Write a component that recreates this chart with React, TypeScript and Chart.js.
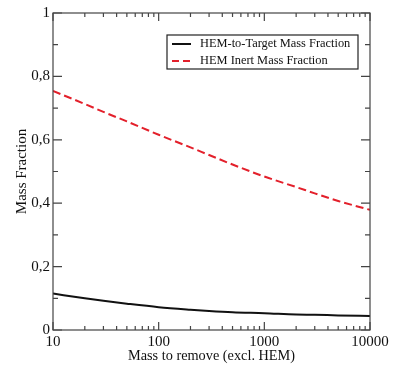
import React, { useEffect, useRef } from "react";
import { Chart, registerables } from "chart.js";

Chart.register(...registerables);

const massValues = [10, 20, 30, 50, 100, 200, 300, 500, 1000, 2000, 3000, 5000, 10000];
const hemToTarget = [0.115, 0.1, 0.092, 0.083, 0.072, 0.064, 0.06, 0.056, 0.053, 0.049, 0.048, 0.046, 0.044];
const hemInert = [0.754, 0.713, 0.688, 0.658, 0.616, 0.576, 0.552, 0.522, 0.484, 0.451, 0.431, 0.407, 0.379];
const xMajorTicks = [10, 100, 1000, 10000];
const yMajorTicks = [0, 0.2, 0.4, 0.6, 0.8, 1];
const yMinorTicks = [0.1, 0.3, 0.5, 0.7, 0.9];
const seriesNames = ["HEM-to-Target Mass Fraction", "HEM Inert Mass Fraction"];

const FONT = "'Liberation Serif', 'Times New Roman', serif";

const framePlugin = {
  id: "frame",
  afterDraw(chart: any) {
    const { ctx, chartArea: a, scales } = chart;
    const xs = scales.x;
    const ys = scales.y;
    ctx.save();
    ctx.strokeStyle = "#444";
    ctx.lineWidth = 1.2;
    ctx.strokeRect(a.left, a.top, a.right - a.left, a.bottom - a.top);
    ctx.beginPath();
    for (let d = 10; d < 10000; d *= 10) {
      for (let m = 1; m <= 10; m++) {
        const v = d * m;
        if (v > 10000) continue;
        const px = xs.getPixelForValue(v);
        const len = m === 1 || m === 10 ? 8 : 4;
        ctx.moveTo(px, a.bottom);
        ctx.lineTo(px, a.bottom - len);
        ctx.moveTo(px, a.top);
        ctx.lineTo(px, a.top + len);
      }
    }
    yMajorTicks.forEach((v) => {
      const py = ys.getPixelForValue(v);
      ctx.moveTo(a.left, py);
      ctx.lineTo(a.left + 9, py);
      ctx.moveTo(a.right, py);
      ctx.lineTo(a.right - 9, py);
    });
    yMinorTicks.forEach((v) => {
      const py = ys.getPixelForValue(v);
      ctx.moveTo(a.left, py);
      ctx.lineTo(a.left + 5, py);
      ctx.moveTo(a.right, py);
      ctx.lineTo(a.right - 5, py);
    });
    ctx.stroke();

    const bx = 167, by = 35, bw = 191, bh = 34;
    ctx.fillStyle = "#fff";
    ctx.fillRect(bx, by, bw, bh);
    ctx.strokeStyle = "#222";
    ctx.lineWidth = 1.2;
    ctx.strokeRect(bx, by, bw, bh);
    const rows = [
      { y: 44, color: "#111", dash: [] as number[] },
      { y: 61, color: "#e3202b", dash: [7, 4] },
    ];
    rows.forEach((r, i) => {
      ctx.beginPath();
      ctx.setLineDash(r.dash);
      ctx.strokeStyle = r.color;
      ctx.lineWidth = 2;
      ctx.moveTo(172, r.y);
      ctx.lineTo(191, r.y);
      ctx.stroke();
      ctx.setLineDash([]);
      ctx.fillStyle = "#111";
      ctx.font = `12.4px ${FONT}`;
      ctx.textBaseline = "middle";
      ctx.textAlign = "left";
      ctx.fillText(seriesNames[i], 200, r.y);
    });
    ctx.restore();
  },
};

export default function App() {
  const ref = useRef<HTMLCanvasElement | null>(null);
  useEffect(() => {
    document.body.style.margin = "0";
    const chart = new Chart(ref.current as HTMLCanvasElement, {
      type: "line",
      data: {
        datasets: [
          {
            label: seriesNames[0],
            data: massValues.map((x, i) => ({ x, y: hemToTarget[i] })),
            borderColor: "#111",
            borderWidth: 2,
            pointRadius: 0,
            cubicInterpolationMode: "monotone",
          },
          {
            label: seriesNames[1],
            data: massValues.map((x, i) => ({ x, y: hemInert[i] })),
            borderColor: "#e3202b",
            borderWidth: 2,
            borderDash: [8, 4],
            pointRadius: 0,
            cubicInterpolationMode: "monotone",
          },
        ],
      },
      options: {
        animation: false,
        responsive: false,
        layout: { padding: { top: 13, right: 23, left: 0, bottom: 0 } },
        plugins: { legend: { display: false }, tooltip: { enabled: false } },
        scales: {
          x: {
            type: "logarithmic",
            min: 10,
            max: 10000,
            grid: { display: false, drawTicks: false },
            border: { display: false },
            afterBuildTicks: (s: any) => {
              s.ticks = xMajorTicks.map((v) => ({ value: v }));
            },
            afterFit: (s: any) => {
              s.height = 35;
            },
            ticks: {
              color: "#111",
              padding: 3,
              maxRotation: 0,
              autoSkip: false,
              font: { family: FONT, size: 15 },
              callback: (v: any) => String(v),
            },
            title: {
              display: true,
              text: "Mass to remove (excl. HEM)",
              color: "#111",
              font: { family: FONT, size: 14.3 },
              padding: { top: -2, bottom: 0 },
            },
          },
          y: {
            min: 0,
            max: 1,
            grid: { display: false, drawTicks: false },
            border: { display: false },
            afterBuildTicks: (s: any) => {
              s.ticks = yMajorTicks.map((v) => ({ value: v }));
            },
            afterFit: (s: any) => {
              s.width = 53;
            },
            ticks: {
              color: "#111",
              padding: 3,
              font: { family: FONT, size: 15 },
              callback: (v: any) => String(Math.round(Number(v) * 10) / 10).replace(".", ","),
            },
            title: {
              display: true,
              text: "Mass Fraction",
              color: "#111",
              font: { family: FONT, size: 15 },
              padding: { top: 13, bottom: 0 },
            },
          },
        },
      },
      plugins: [framePlugin],
    } as any);
    return () => chart.destroy();
  }, []);
  return (
    <div style={{ position: "absolute", left: 0, top: 0, width: 393, height: 365, background: "#fff" }}>
      <canvas ref={ref} width={393} height={365} style={{ width: 393, height: 365 }} />
    </div>
  );
}
